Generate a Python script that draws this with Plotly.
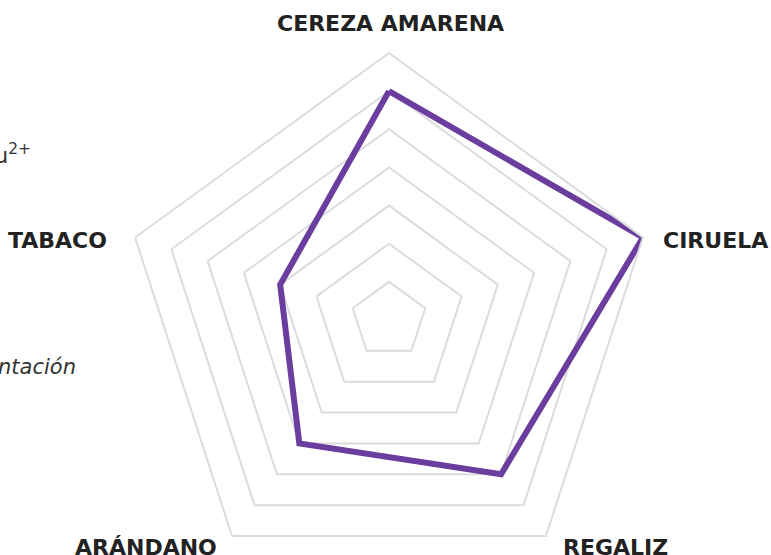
import plotly.graph_objects as go

categories = ["CEREZA AMARENA", "CIRUELA", "REGALIZ", "ARÁNDANO", "TABACO"]
values = [6, 7, 5, 4, 3]
ring_values = [1, 2, 3, 4, 5, 6, 7]

side_notes = ["Cu<sup>2+</sup>", "<i>Fermentación</i>"]

# layout geometry (pixels)
W, H = 771, 620
M_L, M_R, M_T, M_B = 122, 115, 53, 33
PW, PH = W - M_L - M_R, H - M_T - M_B


def px_x(px):
    return (px - M_L) / PW


def px_y(py):
    return (H - M_B - py) / PH


# label anchor placements (pixel x, pixel y, xanchor) for each category
label_places = [
    (390, 23, "center"),
    (661, 241, "left"),
    (561, 547, "left"),
    (219, 547, "right"),
    (109, 241, "right"),
]

fig = go.Figure()
fig.add_trace(go.Scatterpolar(
    r=values + values[:1],
    theta=categories + categories[:1],
    mode="lines",
    line=dict(color="#6a3d9e", width=6),
    hoverinfo="skip",
    showlegend=False,
))

annotations = []
for name, (lx, ly, xa) in zip(categories, label_places):
    annotations.append(dict(
        xref="paper", yref="paper", x=px_x(lx), y=px_y(ly), text=name,
        showarrow=False, xanchor=xa, yanchor="middle",
        font=dict(family="DejaVu Sans", size=22, color="#222222", weight="bold"),
    ))

annotations.append(dict(
    xref="paper", yref="paper", x=px_x(33), y=px_y(154), text=side_notes[0],
    showarrow=False, xanchor="right", yanchor="middle",
    font=dict(family="DejaVu Sans", size=22, color="#333333")))
annotations.append(dict(
    xref="paper", yref="paper", x=px_x(78), y=px_y(367), text=side_notes[1],
    showarrow=False, xanchor="right", yanchor="middle",
    font=dict(family="DejaVu Sans", size=21, color="#333333")))

fig.update_layout(
    width=W,
    height=H,
    margin=dict(l=M_L, r=M_R, t=M_T, b=M_B),
    paper_bgcolor="white",
    plot_bgcolor="white",
    font=dict(family="DejaVu Sans", color="#222222"),
    polar=dict(
        bgcolor="white",
        gridshape="linear",
        domain=dict(x=[0, 1], y=[0, 1]),
        radialaxis=dict(
            range=[0, 7],
            tickvals=ring_values,
            showticklabels=False,
            showline=False,
            ticks="",
            gridcolor="#dcdcdc",
            gridwidth=2,
        ),
        angularaxis=dict(
            rotation=90,
            direction="clockwise",
            showgrid=False,
            showline=True,
            linecolor="#dcdcdc",
            linewidth=2,
            ticks="",
            showticklabels=False,
        ),
    ),
    annotations=annotations,
)

fig.write_html(
    "out.html",
    config={"displayModeBar": False},
    post_script="document.body.style.margin='0';document.body.style.overflow='hidden';",
)
